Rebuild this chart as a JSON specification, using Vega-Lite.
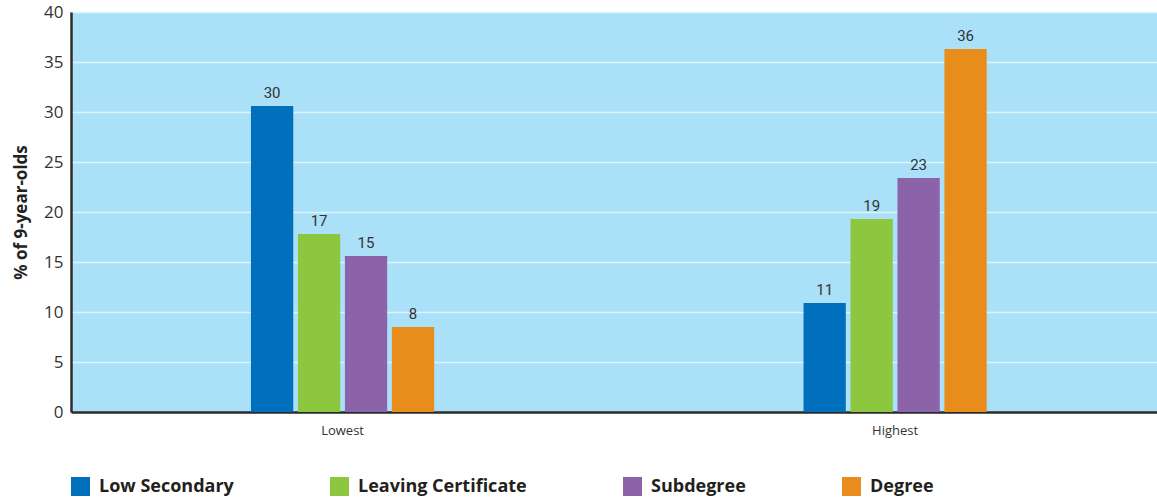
{
  "$schema": "https://vega.github.io/schema/vega-lite/v6.json",
  "autosize": "none",
  "width": 1086,
  "height": 400,
  "padding": {"left": 71, "top": 12, "right": 0, "bottom": 88},
  "background": "white",
  "config": {
    "view": {"fill": "#abe0f9", "stroke": null},
    "font": "Open Sans"
  },
  "data": {
    "values": [
      {"group": "Lowest", "level": "Low Secondary", "value": 30.6, "label": "30"},
      {"group": "Lowest", "level": "Leaving Certificate", "value": 17.8, "label": "17"},
      {"group": "Lowest", "level": "Subdegree", "value": 15.6, "label": "15"},
      {"group": "Lowest", "level": "Degree", "value": 8.5, "label": "8"},
      {"group": "Highest", "level": "Low Secondary", "value": 10.9, "label": "11"},
      {"group": "Highest", "level": "Leaving Certificate", "value": 19.3, "label": "19"},
      {"group": "Highest", "level": "Subdegree", "value": 23.4, "label": "23"},
      {"group": "Highest", "level": "Degree", "value": 36.3, "label": "36"}
    ]
  },
  "encoding": {
    "x": {
      "field": "group", "type": "nominal", "sort": ["Lowest", "Highest"],
      "scale": {"paddingInner": 0.66, "paddingOuter": 0.3127, "align": 0.514},
      "axis": {
        "title": null, "labelAngle": 0, "labelFontSize": 13, "labelColor": "#333333",
        "labelPadding": 12, "ticks": false, "domainColor": "#2b2b2b", "domainWidth": 2.5
      }
    },
    "xOffset": {
      "field": "level", "type": "nominal",
      "sort": ["Low Secondary", "Leaving Certificate", "Subdegree", "Degree"],
      "scale": {"paddingInner": 0.1, "paddingOuter": 0.05}
    },
    "y": {
      "field": "value", "type": "quantitative",
      "scale": {"domain": [0, 40], "nice": false},
      "axis": {
        "title": "% of 9-year-olds", "titleFontSize": 17, "titleFontWeight": "bold",
        "titleColor": "#222222", "titlePadding": 13,
        "values": [0, 5, 10, 15, 20, 25, 30, 35, 40],
        "labelFontSize": 17, "labelColor": "#333333", "labelPadding": 8,
        "ticks": false, "domainColor": "#2b2b2b", "domainWidth": 2.5,
        "grid": true, "gridColor": "#dcf2fd", "gridWidth": 1.5
      }
    }
  },
  "layer": [
    {
      "mark": {"type": "bar"},
      "encoding": {
        "color": {
          "field": "level", "type": "nominal",
          "scale": {
            "domain": ["Low Secondary", "Leaving Certificate", "Subdegree", "Degree"],
            "range": ["#0070bc", "#8dc63f", "#8c62a8", "#e88d1c"]
          },
          "legend": {
            "title": null, "orient": "bottom", "direction": "horizontal",
            "symbolType": "square", "symbolSize": 361, "symbolStrokeWidth": 0,
            "labelFontSize": 18, "labelFontWeight": "bold", "labelColor": "#231f20",
            "labelOffset": 9, "columnPadding": 96, "offset": 40, "labelLimit": 500
          }
        }
      }
    },
    {
      "mark": {"type": "text", "baseline": "bottom", "dy": -5, "fontSize": 15, "color": "#333333", "font": "Roboto"},
      "encoding": {
        "text": {"field": "label"}
      }
    }
  ]
}
